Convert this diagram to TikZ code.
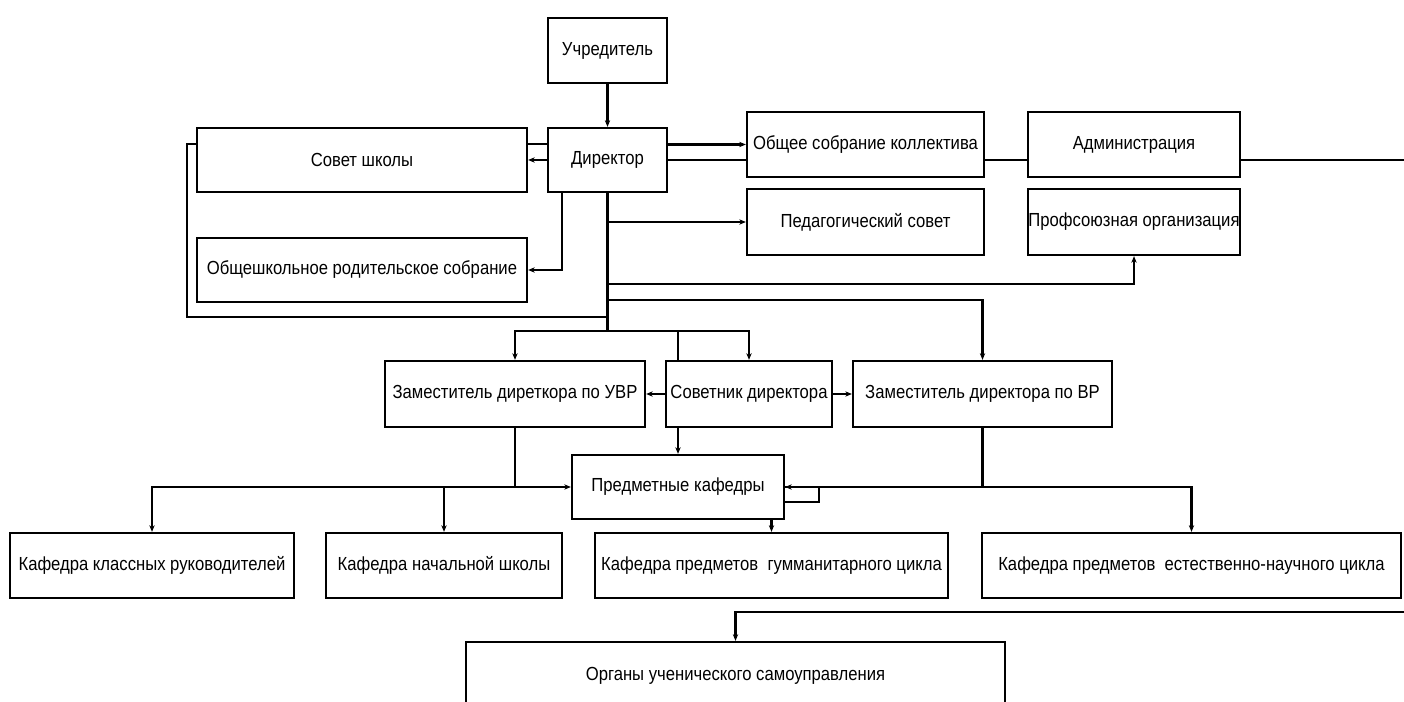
\documentclass[tikz,border=0pt]{standalone}
\usepackage{fontspec}
\setmainfont{Liberation Sans}[FakeStretch=0.88]
\usetikzlibrary{arrows.meta,calc}
\begin{document}
\begin{tikzpicture}[x=0.75pt,y=-0.75pt,
  box/.style={draw=black,line width=1.7pt,fill=white,inner sep=0pt,align=center,
    font=\fontsize{14.2}{16}\selectfont},
  conn/.style={line width=1.6pt,draw=black},
  arr/.style={conn,-{Stealth[length=5pt,width=4pt]}}]
\clip (0,0) rectangle (1404,702);
\fill[white] (0,0) rectangle (1404,702);
% helper rows
\coordinate (r144) at (0,144);
\coordinate (r284) at (0,284);
\coordinate (r300) at (0,300);
\coordinate (lp) at (187,317);
\coordinate (j) at (607.5,331);
\coordinate (re1) at (1404,160);
\coordinate (re2) at (1404,612);
% boxes
\node[box,minimum width=89.25pt,minimum height=48.75pt] (uch) at (607.5,50.5) {Учредитель};
\node[box,minimum width=89.25pt,minimum height=48pt] (dir) at (607.5,160) {Директор};
\node[box,minimum width=247.5pt,minimum height=48pt] (sovet) at (362,160) {Совет школы};
\node[box,minimum width=247.5pt,minimum height=48pt] (rod) at (362,270) {Общешкольное родительское собрание};
\node[box,minimum width=177.75pt,minimum height=48.75pt] (obsh) at (865.5,144.5) {Общее собрание коллектива};
\node[box,minimum width=159pt,minimum height=48.75pt] (adm) at (1134,144.5) {Администрация};
\node[box,minimum width=177.75pt,minimum height=49.5pt] (ped) at (865.5,222) {Педагогический совет};
\node[box,minimum width=159pt,minimum height=49.5pt] (prof) at (1134,222) {Профсоюзная организация};
\node[box,minimum width=195pt,minimum height=49.5pt] (uvr) at (515,394) {Заместитель диреткора по УВР};
\node[box,minimum width=124.5pt,minimum height=49.5pt] (sovd) at (749,394) {Советник директора};
\node[box,minimum width=194.25pt,minimum height=49.5pt] (vr) at (982.5,394) {Заместитель директора по ВР};
\node[box,minimum width=159pt,minimum height=48pt] (pk) at (678,487) {Предметные кафедры};
\node[box,minimum width=213pt,minimum height=48.75pt] (k1) at (152,565.5) {Кафедра классных руководителей};
\node[box,minimum width=177pt,minimum height=48.75pt] (k2) at (444,565.5) {Кафедра начальной школы};
\node[box,minimum width=264.75pt,minimum height=48.75pt] (k3) at (771.5,565.5) {Кафедра предметов\ \ гумманитарного цикла};
\node[box,minimum width=314.25pt,minimum height=48.75pt] (k4) at (1191.5,565.5) {Кафедра предметов\ \ естественно-научного цикла};
\node[box,minimum width=404.25pt,minimum height=48pt,text depth=0pt] (org) at (735.5,674) {Органы ученического самоуправления};
% connectors
\draw[arr] (uch.south) -- (dir.north);
\draw[conn] (dir.west |- r144) -- (sovet.east |- r144);
\draw[arr] (dir.west) -- (sovet.east);
\draw[arr] (dir.east |- obsh.west) -- (obsh.west);
\draw[conn] (dir.east) -- (obsh.west |- dir.east);
\draw[conn] (obsh.east |- dir.east) -- (adm.west |- dir.east);
\draw[conn] (adm.east |- dir.east) -- (re1);
\draw[arr] ($(dir.south)+(-45.5,0)$) |- (rod.east);
\draw[conn] (dir.south) -- (j);
\draw[arr] (dir.south |- ped.west) -- (ped.west);
\draw[arr] (dir.south |- r284) -| (prof.south);
\draw[arr] (dir.south |- r300) -| (vr.north);
\draw[conn] (sovet.west |- r144) -| (lp) -- (dir.south |- lp);
\draw[arr] (j) -| (uvr.north);
\draw[arr] (j) -| (sovd.north);
\draw[conn] (j -| pk) -- (sovd.north -| pk);
\draw[arr] (sovd.west) -- (uvr.east);
\draw[arr] (sovd.east) -- (vr.west);
\draw[arr] (sovd.south -| pk) -- (pk.north);
\draw[arr] (uvr.south) |- (pk.west);
\draw[arr] (uvr.south |- pk.west) -| (k1.north);
\draw[arr] (k2.north |- pk.west) -- (k2.north);
\draw[arr] (vr.south) |- (pk.east);
\draw[arr] (vr.south |- pk.east) -| (k4.north);
\draw[conn] (pk.east) -| ($(pk.east)+(34,15)$) -- ($(pk.east)+(0,15)$);
\draw[arr] (pk.south -| k3.north) -- (k3.north);
\draw[arr] (re2) -| (org.north);
\end{tikzpicture}
\end{document}
